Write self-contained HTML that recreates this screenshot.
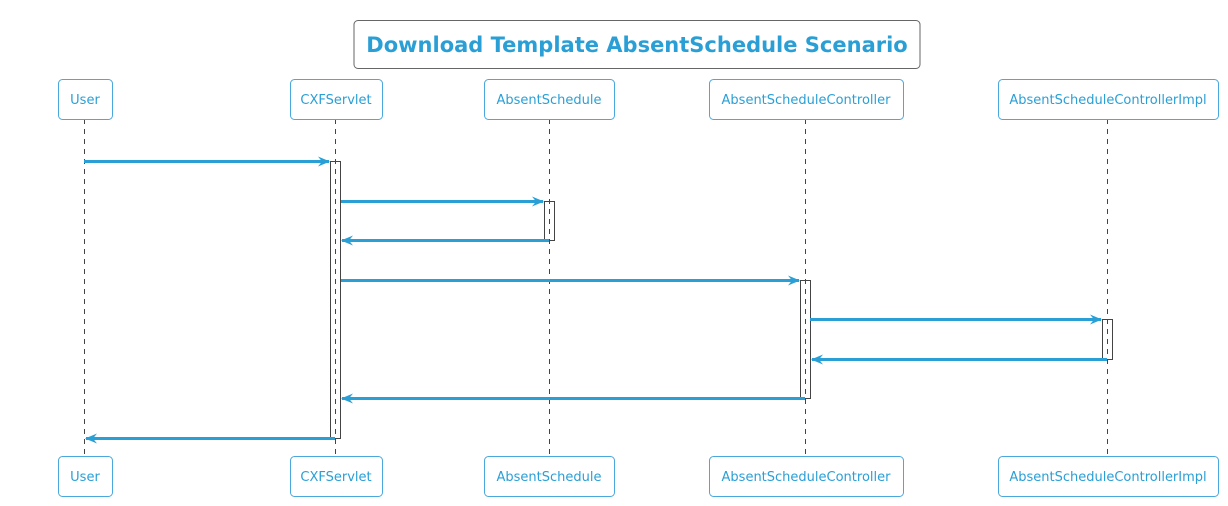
<!DOCTYPE html>
<html><head><meta charset="utf-8"><style>
html,body{margin:0;padding:0;background:#fff;}
svg{display:block;}
text{font-family:"DejaVu Sans","Liberation Sans",sans-serif;}
</style></head><body>
<svg width="1228" height="506" viewBox="0 0 1228 506" xmlns="http://www.w3.org/2000/svg">
<defs>
<marker id="a" markerWidth="12" markerHeight="10" refX="11" refY="5" orient="auto" markerUnits="userSpaceOnUse">
<path d="M0,0 L12,5 L0,10 L4,5 Z" fill="#2a9fd6"/>
</marker>
</defs>
<rect x="354" y="20.5" width="566" height="48" rx="4" fill="#fff" stroke="#666" stroke-width="1"/>
<text x="637" y="52" text-anchor="middle" font-size="21" font-weight="bold" fill="#2a9fd6">Download Template AbsentSchedule Scenario</text>

<g stroke="#444" stroke-width="1" stroke-dasharray="5,5">
<line x1="84.5" y1="119" x2="84.5" y2="457"/>
<line x1="335.5" y1="119" x2="335.5" y2="457"/>
<line x1="549.5" y1="119" x2="549.5" y2="457"/>
<line x1="805.5" y1="119" x2="805.5" y2="457"/>
<line x1="1107.5" y1="119" x2="1107.5" y2="457"/>
</g>

<g fill="#fff" stroke="#4aa8dc" stroke-width="1">
<rect x="58.5" y="79.5" width="54" height="40" rx="4"/>
<rect x="290.5" y="79.5" width="92" height="40" rx="4"/>
<rect x="484.5" y="79.5" width="130" height="40" rx="4"/>
<rect x="709.5" y="79.5" width="194" height="40" rx="4"/>
<rect x="998.5" y="79.5" width="220" height="40" rx="4"/>
<rect x="58.5" y="456.5" width="54" height="40" rx="4"/>
<rect x="290.5" y="456.5" width="92" height="40" rx="4"/>
<rect x="484.5" y="456.5" width="130" height="40" rx="4"/>
<rect x="709.5" y="456.5" width="194" height="40" rx="4"/>
<rect x="998.5" y="456.5" width="220" height="40" rx="4"/>
</g>
<g font-size="13" fill="#2a9fd6" text-anchor="middle">
<text x="85" y="104">User</text>
<text x="336" y="104">CXFServlet</text>
<text x="549" y="104">AbsentSchedule</text>
<text x="806" y="104">AbsentScheduleController</text>
<text x="1108" y="104">AbsentScheduleControllerImpl</text>
<text x="85" y="481">User</text>
<text x="336" y="481">CXFServlet</text>
<text x="549" y="481">AbsentSchedule</text>
<text x="806" y="481">AbsentScheduleController</text>
<text x="1108" y="481">AbsentScheduleControllerImpl</text>
</g>

<g fill="none" stroke="#444" stroke-width="1">
<rect x="330.5" y="161.5" width="10" height="277"/>
<rect x="544.5" y="201.5" width="10" height="39"/>
<rect x="800.5" y="280.5" width="10" height="118"/>
<rect x="1102.5" y="319.5" width="10" height="40"/>
</g>

<g stroke="#2a9fd6" stroke-width="3" marker-end="url(#a)">
<line x1="84" y1="161.5" x2="329" y2="161.5"/>
<line x1="341" y1="201.5" x2="543" y2="201.5"/>
<line x1="549" y1="240.5" x2="342" y2="240.5"/>
<line x1="341" y1="280.5" x2="799" y2="280.5"/>
<line x1="810" y1="319.5" x2="1101" y2="319.5"/>
<line x1="1107" y1="359.5" x2="812" y2="359.5"/>
<line x1="805" y1="398.5" x2="342" y2="398.5"/>
<line x1="335" y1="438.5" x2="86" y2="438.5"/>
</g>
</svg>
</body></html>
